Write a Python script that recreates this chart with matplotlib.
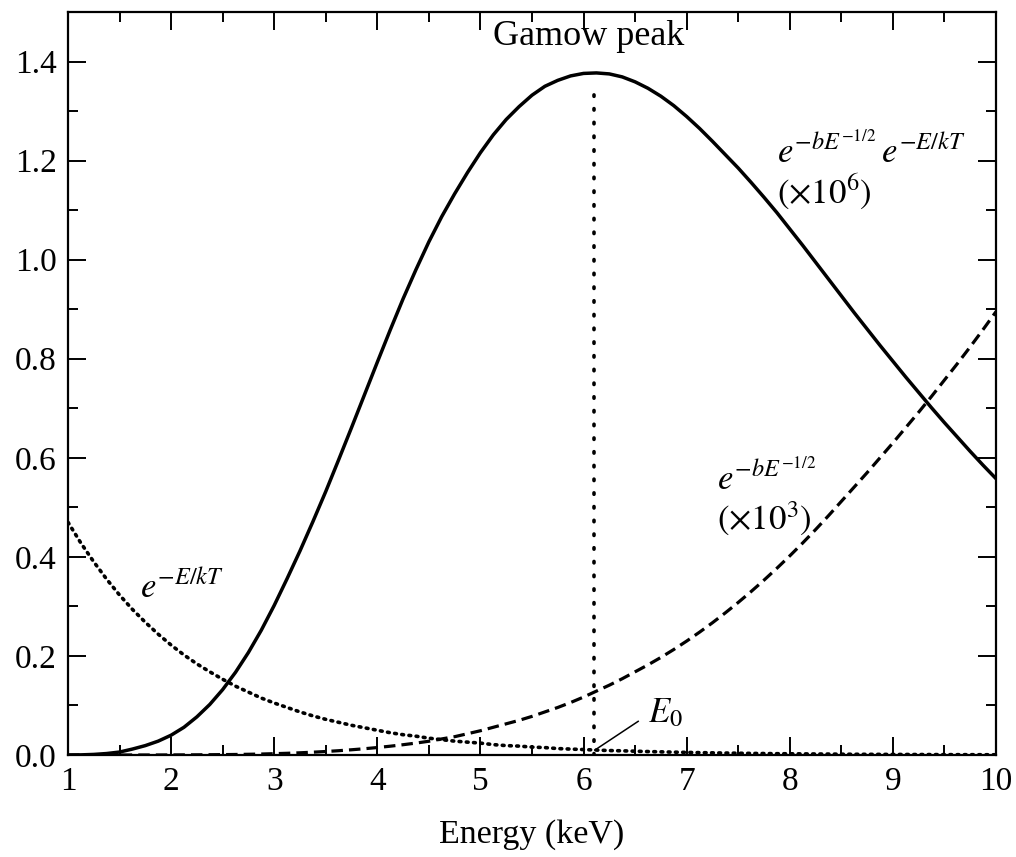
import matplotlib
matplotlib.use("Agg")
import matplotlib.pyplot as plt
from matplotlib.ticker import MultipleLocator

plt.rcParams['font.family'] = ['Liberation Serif', 'DejaVu Serif']
plt.rcParams['mathtext.fontset'] = 'stix'

# Energy grid (keV)
energy = [1.0, 1.125, 1.25, 1.375, 1.5, 1.625, 1.75, 1.875, 2.0, 2.125,
          2.25, 2.375, 2.5, 2.625, 2.75, 2.875, 3.0, 3.125, 3.25, 3.375,
          3.5, 3.625, 3.75, 3.875, 4.0, 4.125, 4.25, 4.375, 4.5, 4.625,
          4.75, 4.875, 5.0, 5.125, 5.25, 5.375, 5.5, 5.625, 5.75, 5.875,
          6.0, 6.125, 6.25, 6.375, 6.5, 6.625, 6.75, 6.875, 7.0, 7.125,
          7.25, 7.375, 7.5, 7.625, 7.75, 7.875, 8.0, 8.125, 8.25, 8.375,
          8.5, 8.625, 8.75, 8.875, 9.0, 9.125, 9.25, 9.375, 9.5, 9.625,
          9.75, 9.875, 10.0]

# Gamow product e^{-bE^-1/2} e^{-E/kT} (x10^6)
gamow = [0.000, 0.0003, 0.0012, 0.003, 0.006, 0.012, 0.019, 0.028, 0.040,
         0.056, 0.077, 0.102, 0.132, 0.167, 0.207, 0.252, 0.302, 0.356, 0.412,
         0.471, 0.532, 0.596, 0.661, 0.727, 0.793, 0.858, 0.921, 0.980, 1.036,
         1.087, 1.133, 1.176, 1.216, 1.252, 1.283, 1.309, 1.332, 1.350, 1.362,
         1.371, 1.376, 1.377, 1.375, 1.369, 1.359, 1.346, 1.330, 1.311, 1.289,
         1.265, 1.239, 1.212, 1.185, 1.156, 1.126, 1.095, 1.062, 1.029, 0.995,
         0.961, 0.927, 0.893, 0.860, 0.827, 0.795, 0.763, 0.732, 0.701, 0.671,
         0.642, 0.613, 0.585, 0.558]

# Boltzmann factor e^{-E/kT}
boltz = [0.470, 0.428, 0.390, 0.355, 0.323, 0.294, 0.268, 0.244, 0.222,
         0.202, 0.184, 0.168, 0.153, 0.139, 0.127, 0.115, 0.105, 0.096, 0.087,
         0.079, 0.072, 0.066, 0.060, 0.055, 0.050, 0.045, 0.041, 0.038, 0.034,
         0.031, 0.028, 0.026, 0.024, 0.021, 0.019, 0.018, 0.016, 0.015, 0.013,
         0.012, 0.011, 0.010, 0.009, 0.0085, 0.0077, 0.0070, 0.0064, 0.0058,
         0.0053, 0.0048, 0.0044, 0.0040, 0.0036, 0.0033, 0.0030, 0.0027,
         0.0025, 0.0023, 0.0021, 0.0019, 0.0017, 0.0015, 0.0014, 0.0013,
         0.0012, 0.0011, 0.0010, 0.0009, 0.0008, 0.0007, 0.0007, 0.0006, 0.0005]

# Tunnelling factor e^{-bE^-1/2} (x10^3)
tunnel = [0.0000, 0.0000, 0.0000, 0.0000, 0.0000, 0.0001, 0.0001, 0.0001,
          0.0002, 0.0003, 0.0004, 0.0006, 0.0008, 0.0011, 0.0015, 0.0020,
          0.0027, 0.0035, 0.0045, 0.0057, 0.0071, 0.0087, 0.0106, 0.0127,
          0.0151, 0.0178, 0.0208, 0.0241, 0.0278, 0.0325, 0.037, 0.043, 0.049,
          0.056, 0.063, 0.070, 0.078, 0.087, 0.096, 0.106, 0.117, 0.129, 0.141,
          0.154, 0.168, 0.182, 0.197, 0.213, 0.230, 0.248, 0.267, 0.287, 0.308,
          0.330, 0.353, 0.377, 0.402, 0.428, 0.455, 0.483, 0.512, 0.541, 0.570,
          0.600, 0.630, 0.661, 0.692, 0.724, 0.757, 0.790, 0.824, 0.859, 0.895]

E0 = 6.1
peak_top = 1.35

fig = plt.figure(figsize=(10.16, 8.57), dpi=100)
ax = fig.add_axes([0.0669, 0.1190, 0.9134, 0.8670])

ax.plot(energy, gamow, color='black', lw=2.5, solid_capstyle='round',
        solid_joinstyle='round')
ax.plot(energy, tunnel, color='black', lw=2.3, linestyle=(0, (3.6, 1.9)))
ax.plot(energy, boltz, color='black', lw=2.6, linestyle=(0, (0.5, 1.5)),
        dash_capstyle='round')
ax.plot([E0, E0], [0, peak_top], color='black', lw=2.6,
        linestyle=(0, (0.4, 3.4)), dash_capstyle='round')

ax.set_xlim(1, 10)
ax.set_ylim(0, 1.5)
ax.xaxis.set_major_locator(MultipleLocator(1))
ax.xaxis.set_minor_locator(MultipleLocator(0.5))
ax.yaxis.set_minor_locator(MultipleLocator(0.1))
ax.set_yticks([0, 0.2, 0.4, 0.6, 0.8, 1.0, 1.2, 1.4])
ax.set_yticklabels(['0.0', '0.2', '0.4', '0.6', '0.8', '1.0', '1.2', '1.4'])

ax.tick_params(which='both', direction='in', top=True, right=True,
               color='black', width=1.4, labelsize=24)
ax.tick_params(which='major', length=13)
ax.tick_params(which='minor', length=7)
ax.tick_params(axis='x', which='major', pad=8)
ax.tick_params(axis='y', which='major', pad=8)
for s in ax.spines.values():
    s.set_linewidth(1.6)

ax.set_xlabel('Energy (keV)', fontsize=24.5, labelpad=16)

ax.text(6.05, 1.434, 'Gamow peak', fontsize=26, ha='center', va='baseline')
ax.text(7.88, 1.196, r'$e^{-bE^{-1/2}}\,e^{-E/kT}$', fontsize=25,
        ha='left', va='baseline')
ax.text(7.88, 1.115, r'$(\times 10^{6})$', fontsize=25, ha='left', va='baseline')
ax.text(7.29, 0.535, r'$e^{-bE^{-1/2}}$', fontsize=25, ha='left', va='baseline')
ax.text(7.29, 0.455, r'$(\times 10^{3})$', fontsize=25, ha='left', va='baseline')
ax.text(1.70, 0.318, r'$e^{-E/kT}$', fontsize=25, ha='left', va='baseline')
ax.text(6.63, 0.067, r'$E_0$', fontsize=25, ha='left', va='baseline')
ax.plot([6.11, 6.53], [0.010, 0.068], color='black', lw=1.1)

fig.savefig('out.png', dpi=100)
